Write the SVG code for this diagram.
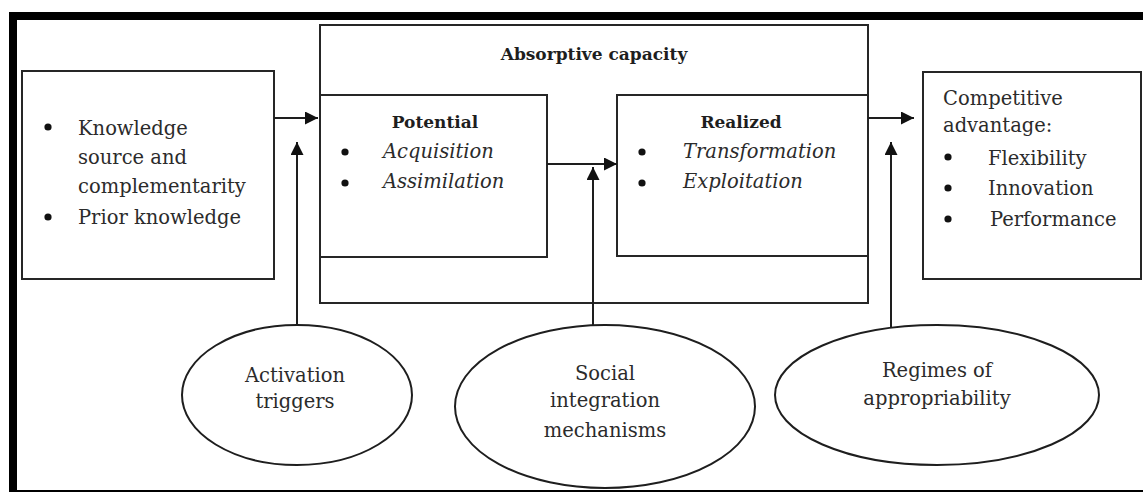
<svg xmlns="http://www.w3.org/2000/svg" width="1143" height="492" viewBox="0 0 1143 492">
<style>
.box{fill:#fff;stroke:#262626;stroke-width:2}
.ell{fill:#fff;stroke:#1e1e1e;stroke-width:2}
.con{fill:none;stroke:#1e1e1e;stroke-width:2}
.t{font-family:"DejaVu Serif","Liberation Serif",serif;font-size:19.5px;fill:#2b2b2b}
.b{font-family:"DejaVu Serif","Liberation Serif",serif;font-size:17px;font-weight:bold;fill:#1e1e1e}
.i{font-style:italic}
.c{text-anchor:middle}
.dot{fill:#111}
</style>
<defs>
<marker id="ah" viewBox="0 0 10 10" refX="10" refY="5" markerWidth="13" markerHeight="13" markerUnits="userSpaceOnUse" orient="auto">
<path d="M0,0 L10,5 L0,10 z" fill="#111"/>
</marker>
</defs>
<rect width="1143" height="492" fill="#fff"/>
<rect x="13" y="16" width="1150" height="478" fill="none" stroke="#000" stroke-width="8"/>

<g id="sources">
<rect class="box" x="22" y="71" width="252" height="208"/>
<circle class="dot" cx="48" cy="127" r="3.6"/>
<text class="t" x="78" y="135">Knowledge</text>
<text class="t" x="78" y="164">source and</text>
<text class="t" x="78" y="193">complementarity</text>
<circle class="dot" cx="48" cy="217" r="3.6"/>
<text class="t" x="78" y="224">Prior knowledge</text>
</g>

<g id="absorptive-capacity">
<rect class="box" x="320" y="25" width="548" height="278"/>
<text class="b c" x="594" y="60">Absorptive capacity</text>
</g>

<g id="potential">
<rect class="box" x="320" y="95" width="227" height="162"/>
<text class="b c" x="435" y="128">Potential</text>
<circle class="dot" cx="345" cy="152" r="3.6"/>
<text class="t i" x="383" y="158">Acquisition</text>
<circle class="dot" cx="345" cy="183" r="3.6"/>
<text class="t i" x="383" y="188">Assimilation</text>
</g>

<g id="realized">
<rect class="box" x="617" y="95" width="251" height="161"/>
<text class="b c" x="741" y="128">Realized</text>
<circle class="dot" cx="642" cy="152" r="3.6"/>
<text class="t i" x="683" y="158">Transformation</text>
<circle class="dot" cx="642" cy="183" r="3.6"/>
<text class="t i" x="683" y="188">Exploitation</text>
</g>

<g id="competitive-advantage">
<rect class="box" x="923" y="72" width="218" height="207"/>
<text class="t" x="943" y="105">Competitive</text>
<text class="t" x="943" y="132">advantage:</text>
<circle class="dot" cx="948" cy="157" r="3.6"/>
<text class="t" x="988" y="165">Flexibility</text>
<circle class="dot" cx="948" cy="188" r="3.6"/>
<text class="t" x="988" y="195">Innovation</text>
<circle class="dot" cx="948" cy="219" r="3.6"/>
<text class="t" x="990" y="226">Performance</text>
</g>

<g id="activation-triggers">
<ellipse class="ell" cx="297" cy="395" rx="115" ry="70"/>
<text class="t c" x="295" y="382">Activation</text>
<text class="t c" x="295" y="408">triggers</text>
</g>

<g id="social-integration">
<ellipse class="ell" cx="605" cy="406.5" rx="150" ry="81.5"/>
<text class="t c" x="605" y="380">Social</text>
<text class="t c" x="605" y="407">integration</text>
<text class="t c" x="605" y="437">mechanisms</text>
</g>

<g id="regimes">
<ellipse class="ell" cx="937" cy="395" rx="162" ry="70"/>
<text class="t c" x="937" y="377">Regimes of</text>
<text class="t c" x="937" y="405">appropriability</text>
</g>

<g id="connectors">
<path class="con" d="M274,118 L318,118" marker-end="url(#ah)"/>
<path class="con" d="M547,164 L617,164" marker-end="url(#ah)"/>
<path class="con" d="M868,118 L914,118" marker-end="url(#ah)"/>
<path class="con" d="M297,325 L297,142" marker-end="url(#ah)"/>
<path class="con" d="M593,325 L593,167" marker-end="url(#ah)"/>
<path class="con" d="M891,328 L891,142" marker-end="url(#ah)"/>
</g>
</svg>
